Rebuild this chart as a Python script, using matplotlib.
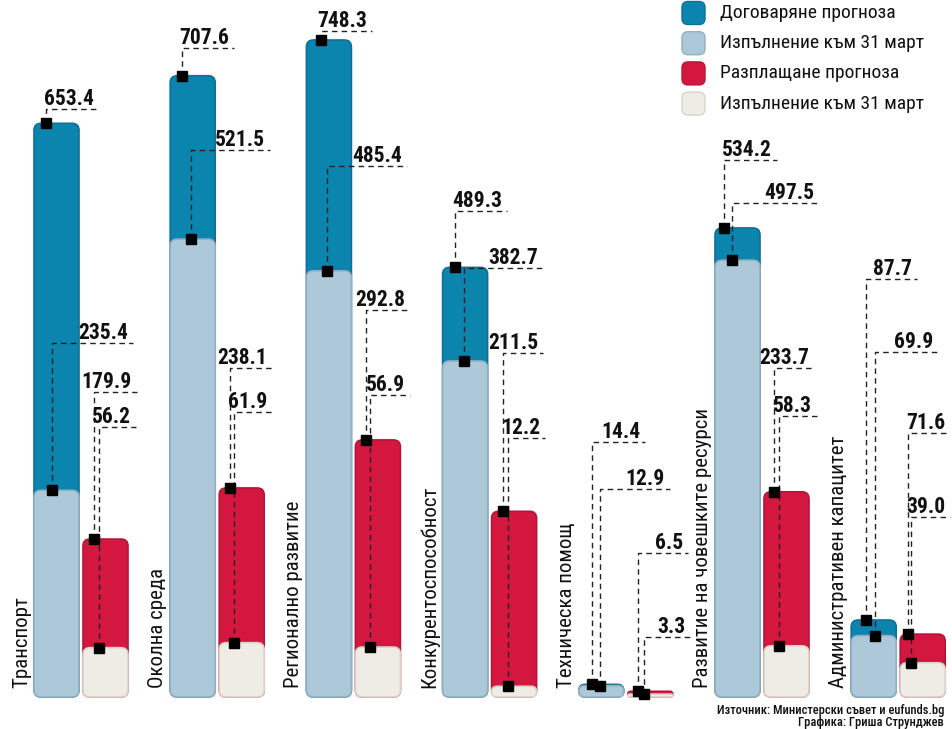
import matplotlib
matplotlib.use('Agg')
import matplotlib.pyplot as plt
from matplotlib.patches import FancyBboxPatch
from matplotlib import font_manager as fm

# ---------------- data ----------------
categories = ['Транспорт', 'Околна среда', 'Регионално развитие', 'Конкурентоспособност',
              'Техническа помощ', 'Развитие на човешките ресурси', 'Административен капацитет']
contract_forecast = [653.4, 707.6, 748.3, 489.3, 14.4, 534.2, 87.7]
contract_actual = [235.4, 521.5, 485.4, 382.7, 12.9, 497.5, 69.9]
payment_forecast = [179.9, 238.1, 292.8, 211.5, 6.5, 233.7, 71.6]
payment_actual = [56.2, 61.9, 56.9, 12.2, 3.3, 58.3, 39.0]
legend_labels = ['Договаряне прогноза', 'Изпълнение към 31 март',
                 'Разплащане прогноза', 'Изпълнение към 31 март']
source_lines = ['Източник: Министерски съвет и eufunds.bg', 'Графика: Гриша Струнджев']

# ---------------- styles ----------------
C_BLUE, E_BLUE = '#0b84ae', '#0a7198'
C_LBLUE, E_LBLUE = '#adc9d9', '#94b0c0'
C_RED, E_RED = '#d3173f', '#b8143a'
C_WHITE, E_WHITE = '#efece6', '#d9d3ca'

avail = {f.name for f in fm.fontManager.ttflist}
narrow = next((n for n in ['Liberation Sans Narrow', 'Roboto Condensed', 'Open Sans Condensed']
               if n in avail), None)
if narrow:
    FAM = [narrow, 'DejaVu Sans']
    k = 1.0
else:
    FAM = ['DejaVu Sans']
    k = 0.8
plt.rcParams['font.family'] = FAM

W, H = 953, 729
BASE = 697          # pixel row of the bar baseline (from top)
S = 0.878           # pixels per data unit

fig = plt.figure(figsize=(W / 100, H / 100), dpi=100)
ax = fig.add_axes([0, 0, 1, 1])
ax.set_xlim(0, W)
ax.set_ylim((BASE - H) / S, BASE / S)
ax.axis('off')

def py(p):
    """pixel row (from top) -> data y"""
    return (BASE - p) / S

def rbar(x, h, w, fc, ec, r=7, z=2):
    hp = h * S
    rr = max(0.3, min(r, hp / 2.0, w / 2.0))
    p = FancyBboxPatch((x, 0), w, h, boxstyle=f"round,pad=0,rounding_size={rr}",
                       mutation_aspect=1 / S, fc=fc, ec=ec, lw=1.2, zorder=z)
    ax.add_patch(p)

# layout (pixels)
GROUP_X0, GROUP_DX, BAR_W, BAR_GAP = 34, 136.2, 45, 4
# marker x, label line row, line end x for each of the 4 values per group
lab_layout = [
    [(46, 109, 99), (52, 343, 133), (94, 392, 137), (99, 427, 136)],
    [(182, 48, 234), (191, 150, 270), (230, 368, 272), (234, 412, 272)],
    [(321, 31, 372), (327, 166, 407), (366, 310, 410), (370, 395, 410)],
    [(455, 211, 507), (464, 268, 543), (503, 353, 543), (508, 438, 545)],
    [(592, 442, 645), (600, 489, 670), (638, 553, 688), (644, 637, 690)],
    [(724, 160, 777), (732, 203, 819), (774, 368, 814), (779, 416, 817)],
    [(866, 279, 917), (875, 352, 938), (908, 433, 950), (911, 517, 950)],
]

for i, cat in enumerate(categories):
    xb = GROUP_X0 + GROUP_DX * i
    xr = xb + BAR_W + BAR_GAP
    rbar(xb, contract_forecast[i], BAR_W, C_BLUE, E_BLUE, z=2)
    rbar(xb, contract_actual[i], BAR_W, C_LBLUE, E_LBLUE, z=3)
    rbar(xr, payment_forecast[i], BAR_W, C_RED, E_RED, z=2)
    rbar(xr, payment_actual[i], BAR_W, C_WHITE, E_WHITE, z=3)

    ax.text(xb - 7, py(688), cat, rotation=90, rotation_mode='anchor',
            ha='left', va='baseline', fontsize=15 * k, color='#111111', zorder=5)

    vals = [contract_forecast[i], contract_actual[i], payment_forecast[i], payment_actual[i]]
    for v, (mx, ly, xe) in zip(vals, lab_layout[i]):
        ax.plot([mx, mx, xe], [v, py(ly), py(ly)], color='#222222', lw=1.0,
                ls=(0, (4, 3)), zorder=6, solid_capstyle='butt')
        ax.plot([mx], [v], marker='s', ms=6.5, color='black', mec='black', zorder=7)
        ax.text(xe - 5, py(ly - 4), f"{v:.1f}", ha='right', va='baseline',
                fontsize=15.5 * k, fontweight='bold', color='#111111', zorder=8)

# legend
leg_colors = [(C_BLUE, E_BLUE), (C_LBLUE, E_LBLUE), (C_RED, E_RED), (C_WHITE, E_WHITE)]
for j, ((fc, ec), lab) in enumerate(zip(leg_colors, legend_labels)):
    yc = 13 + 30.2 * j
    p = FancyBboxPatch((682, py(yc + 11.5)), 23, 23 / S, boxstyle="round,pad=0,rounding_size=6",
                       mutation_aspect=1 / S, fc=fc, ec=ec, lw=1.0, zorder=5)
    ax.add_patch(p)
    ax.text(720, py(yc), lab, ha='left', va='center', fontsize=14 * k, color='#111111')

# source
ax.text(944, py(714), source_lines[0], ha='right', va='baseline', fontsize=9 * k,
        fontweight='medium', color='#111111')
ax.text(944, py(726), source_lines[1], ha='right', va='baseline', fontsize=9 * k,
        fontweight='medium', color='#111111')

fig.savefig('out.png', dpi=100)
